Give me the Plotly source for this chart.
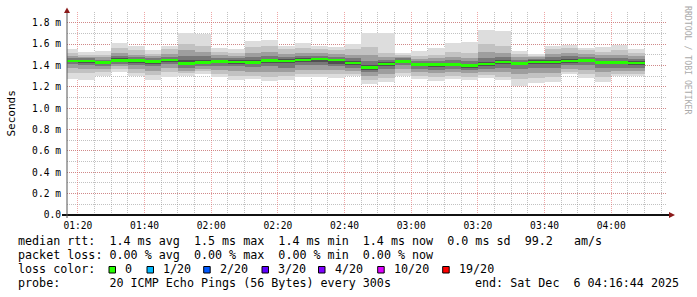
import pandas as pd
import plotly.graph_objects as go

# ---------------- data (values in ms) ----------------
bar_end = pd.date_range("2025-12-06 01:20:00", "2025-12-06 04:10:00", freq="5min")

ping_max = [1.556,1.525,1.537,1.612,1.584,1.547,1.584,1.706,1.690,1.566,1.553,1.631,1.641,1.584,1.612,1.578,1.572,1.597,1.706,1.706,1.519,1.534,1.566,1.612,1.622,1.734,1.722,1.534,1.509,1.581,1.590,1.566,1.575,1.590,1.556]
band2_hi = [1.52,1.50,1.50,1.56,1.54,1.51,1.55,1.60,1.58,1.53,1.52,1.57,1.58,1.55,1.56,1.55,1.54,1.55,1.57,1.52,1.50,1.49,1.50,1.53,1.52,1.60,1.58,1.51,1.49,1.55,1.56,1.54,1.53,1.54,1.52]
band3_hi = [1.49,1.48,1.475,1.52,1.50,1.485,1.51,1.54,1.53,1.50,1.49,1.52,1.53,1.51,1.52,1.52,1.51,1.50,1.50,1.48,1.48,1.46,1.465,1.48,1.47,1.53,1.52,1.48,1.475,1.51,1.52,1.51,1.50,1.50,1.49]
band4_hi = [1.47,1.465,1.455,1.49,1.475,1.465,1.48,1.49,1.49,1.47,1.465,1.48,1.49,1.48,1.485,1.49,1.48,1.47,1.44,1.45,1.465,1.44,1.44,1.45,1.44,1.47,1.48,1.455,1.46,1.48,1.485,1.48,1.47,1.47,1.46]
band5_hi = [1.455,1.452,1.44,1.465,1.458,1.45,1.462,1.45,1.455,1.452,1.448,1.45,1.46,1.458,1.465,1.472,1.462,1.44,1.40,1.43,1.452,1.422,1.422,1.425,1.415,1.43,1.45,1.435,1.448,1.452,1.46,1.462,1.445,1.445,1.44]
band5_lo = [1.43,1.425,1.415,1.43,1.42,1.415,1.43,1.40,1.41,1.42,1.415,1.41,1.42,1.42,1.43,1.43,1.41,1.40,1.36,1.39,1.42,1.39,1.385,1.39,1.38,1.395,1.41,1.40,1.41,1.41,1.42,1.43,1.41,1.41,1.40]
band4_lo = [1.41,1.40,1.395,1.41,1.40,1.39,1.41,1.38,1.39,1.39,1.39,1.385,1.39,1.38,1.40,1.40,1.39,1.38,1.34,1.37,1.40,1.37,1.36,1.37,1.36,1.37,1.38,1.37,1.38,1.38,1.40,1.40,1.38,1.38,1.38]
band3_lo = [1.38,1.37,1.37,1.39,1.37,1.35,1.38,1.35,1.365,1.36,1.35,1.34,1.34,1.34,1.36,1.36,1.36,1.35,1.30,1.32,1.37,1.34,1.33,1.34,1.33,1.34,1.34,1.32,1.33,1.33,1.37,1.36,1.34,1.35,1.35]
band2_lo = [1.33,1.33,1.335,1.37,1.33,1.31,1.34,1.33,1.345,1.32,1.30,1.30,1.29,1.30,1.32,1.32,1.32,1.32,1.26,1.28,1.33,1.30,1.29,1.30,1.29,1.31,1.29,1.27,1.28,1.29,1.34,1.32,1.29,1.32,1.32]
ping_min = [1.275,1.266,1.297,1.341,1.303,1.266,1.294,1.297,1.322,1.287,1.259,1.269,1.253,1.259,1.291,1.291,1.284,1.297,1.228,1.244,1.300,1.269,1.253,1.269,1.259,1.284,1.259,1.206,1.231,1.244,1.316,1.284,1.244,1.300,1.300]
median = [1.442,1.442,1.427,1.447,1.445,1.439,1.450,1.418,1.425,1.437,1.432,1.430,1.444,1.441,1.451,1.461,1.451,1.423,1.381,1.414,1.439,1.409,1.411,1.411,1.402,1.414,1.433,1.417,1.433,1.433,1.441,1.448,1.430,1.430,1.422]

ytick_vals = [0, 0.2, 0.4, 0.6, 0.8, 1.0, 1.2, 1.4, 1.6, 1.8]
ytick_text = ["0.0", "0.2 m", "0.4 m", "0.6 m", "0.8 m", "1.0 m", "1.2 m", "1.4 m", "1.6 m", "1.8 m"]

loss_labels = ["0", "1/20", "2/20", "3/20", "4/20", "10/20", "19/20"]
loss_colors = ["#26ff00", "#00b8ff", "#0059ff", "#5e00ff", "#7e00ff", "#dd00ff", "#ff0000"]

line_rtt = "median rtt:  1.4 ms avg  1.5 ms max  1.4 ms min  1.4 ms now  0.0 ms sd  99.2   am/s"
line_loss = "packet loss: 0.00 % avg  0.00 % max  0.00 % min  0.00 % now"
line_probe = "probe:       20 ICMP Echo Pings (56 Bytes) every 300s"
line_end = "end: Sat Dec  6 04:16:44 2025"

# ---------------- figure ----------------
W, H = 697, 297
L, R, T, B = 67, 30, 12, 82
PW, PH = W - L - R, H - T - B
FONT = "DejaVu Sans Mono"

def px(x):
    return (x - L) / PW

def py(y):
    return (H - B - y) / PH

fig = go.Figure()
STEP = 300000
bands = [
    (ping_min, ping_max, "#dddddd"),
    (band2_lo, band2_hi, "#c2c2c2"),
    (band3_lo, band3_hi, "#9e9e9e"),
    (band4_lo, band4_hi, "#787878"),
    (band5_lo, band5_hi, "#505050"),
]
for lo, hi, col in bands:
    fig.add_trace(go.Bar(
        x=bar_end, base=lo, y=[h - l for l, h in zip(lo, hi)],
        width=STEP, offset=-STEP, marker=dict(color=col, line=dict(width=0)),
        hoverinfo="skip", showlegend=False))

MED_T = 0.026
fig.add_trace(go.Bar(
    x=bar_end, base=[m - MED_T / 2 for m in median], y=[MED_T] * len(median),
    width=STEP, offset=-STEP, marker=dict(color=loss_colors[0], line=dict(width=0)),
    hoverinfo="skip", showlegend=False))

major_grid = "rgba(222,79,79,0.5)"
minor_grid = "rgba(143,143,143,0.55)"

fig.update_layout(
    width=W, height=H, autosize=False,
    margin=dict(l=L, r=R, t=T, b=B, pad=0),
    paper_bgcolor="white", plot_bgcolor="white",
    barmode="overlay", bargap=0, showlegend=False,
    font=dict(family=FONT, color="black"),
    xaxis=dict(
        type="date",
        range=["2025-12-06 01:16:44", "2025-12-06 04:16:44"],
        tickformat="%H:%M", tick0="2025-12-06 00:00:00", dtick=1200000,
        showgrid=True, gridcolor=major_grid, griddash="1px,1px", gridwidth=1,
        minor=dict(tick0="2025-12-06 00:00:00", dtick=300000, showgrid=True,
                   gridcolor=minor_grid, griddash="1px,1px", gridwidth=1),
        zeroline=False, showline=False, ticks="",
        ticklabelstandoff=3,
        tickfont=dict(family=FONT, size=9.6, color="black"),
        fixedrange=True,
    ),
    yaxis=dict(
        range=[0, 1.9],
        tickmode="array", tickvals=ytick_vals, ticktext=ytick_text,
        showgrid=True, gridcolor=major_grid, griddash="1px,1px", gridwidth=1,
        minor=dict(tick0=0, dtick=0.1, showgrid=True,
                   gridcolor=minor_grid, griddash="1px,1px", gridwidth=1),
        zeroline=False, showline=False, ticks="",
        ticklabelstandoff=5,
        tickfont=dict(family=FONT, size=9.6, color="black"),
        fixedrange=True,
    ),
)

shapes = []
# axes
shapes.append(dict(type="line", xref="paper", yref="paper",
                   x0=px(62), x1=px(670), y0=py(215), y1=py(215),
                   line=dict(color="#111111", width=2)))
shapes.append(dict(type="line", xref="paper", yref="paper",
                   x0=px(67), x1=px(67), y0=py(218), y1=py(11),
                   line=dict(color="#555555", width=1)))
# arrows
shapes.append(dict(type="path", xref="paper", yref="paper",
                   path=f"M {px(67)} {py(7.5)} L {px(64)} {py(13)} L {px(70)} {py(13)} Z",
                   fillcolor="#8b1a1a", line=dict(width=0)))
shapes.append(dict(type="path", xref="paper", yref="paper",
                   path=f"M {px(675)} {py(215)} L {px(669)} {py(212)} L {px(669)} {py(218)} Z",
                   fillcolor="#8b1a1a", line=dict(width=0)))

annotations = []
NB = "\u00a0"
LEG = 11.7

def ann(text, x, y, xanchor="left", size=LEG, color="black", angle=0):
    annotations.append(dict(
        text=text.replace(" ", NB), xref="paper", yref="paper",
        x=px(x), y=py(y), xanchor=xanchor, yanchor="middle",
        showarrow=False, textangle=angle,
        font=dict(family=FONT, size=size, color=color)))

ann(line_rtt, 16, 241)
ann(line_loss, 16, 255)
ann("loss color:", 16, 269)
ann(line_probe, 16, 283)
ann(line_end, 681, 283, xanchor="right")

label_x = [123, 161, 217.7, 276, 332.5, 391.7, 456.7]
for lab, col, lx in zip(loss_labels, loss_colors, label_x):
    ann(lab, lx, 269)
    shapes.append(dict(type="rect", xref="paper", yref="paper",
                       x0=px(lx - 14), x1=px(lx - 7.5), y0=py(273), y1=py(266.5),
                       fillcolor=col, line=dict(color="black", width=1)))

# axis title and watermark
annotations.append(dict(text="Seconds", xref="paper", yref="paper",
                        x=px(11), y=py(113.5), xanchor="center", yanchor="middle",
                        textangle=-90, showarrow=False,
                        font=dict(family=FONT, size=11, color="black")))
annotations.append(dict(text="RRDTOOL / TOBI OETIKER".replace(" ", NB), xref="paper", yref="paper",
                        x=px(688), y=py(60), xanchor="center", yanchor="middle",
                        textangle=90, showarrow=False,
                        font=dict(family=FONT, size=8.2, color="#aaaaaa")))

fig.update_layout(shapes=shapes, annotations=annotations)
fig.write_html("out.html")
